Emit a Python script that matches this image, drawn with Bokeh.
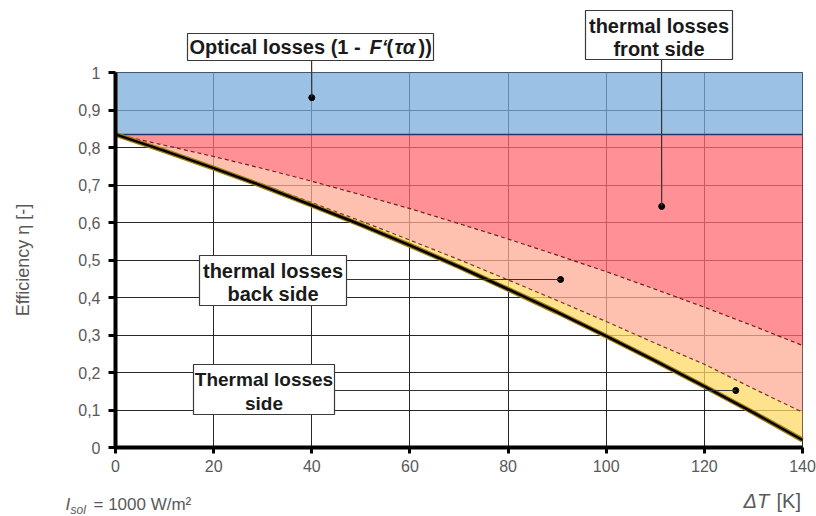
from bokeh.plotting import figure
from bokeh.models import (FixedTicker, CustomJSTickFormatter, Label, BoxAnnotation,
                          Arrow, ColumnDataSource, Range1d)
from bokeh.embed import file_html
from bokeh.resources import INLINE

# ---- data ----
delta_T = [0, 10, 20, 30, 40, 50, 60, 70, 80, 90, 100, 110, 120, 130, 140]
eta_top = [1.0, 1.0, 1.0, 1.0, 1.0, 1.0, 1.0, 1.0, 1.0, 1.0, 1.0, 1.0, 1.0, 1.0, 1.0]
eta_optical = [0.835, 0.835, 0.835, 0.835, 0.835, 0.835, 0.835, 0.835, 0.835, 0.835,
               0.835, 0.835, 0.835, 0.835, 0.835]
eta_front = [0.835, 0.806, 0.776, 0.744, 0.710, 0.674, 0.637, 0.597, 0.556, 0.513,
             0.469, 0.422, 0.374, 0.324, 0.272]
eta_back = [0.835, 0.792, 0.747, 0.701, 0.653, 0.604, 0.553, 0.501, 0.447, 0.392,
            0.336, 0.278, 0.222, 0.157, 0.094]
eta_total = [0.835, 0.791, 0.745, 0.697, 0.646, 0.594, 0.539, 0.482, 0.422, 0.361,
             0.297, 0.231, 0.163, 0.093, 0.020]

x_ticks = [0, 20, 40, 60, 80, 100, 120, 140]
y_ticks = [0, 0.1, 0.2, 0.3, 0.4, 0.5, 0.6, 0.7, 0.8, 0.9, 1.0]
y_tick_labels = ["0", "0,1", "0,2", "0,3", "0,4", "0,5", "0,6", "0,7", "0,8", "0,9", "1"]

# annotation points (dots)
dot_x = [40, 111.3, 90.7, 126.4]
dot_y = [0.933, 0.643, 0.448, 0.152]

FONT = "Liberation Sans"
GRAY = "#595959"

# canvas geometry: the plotting frame fills the canvas, the data area sits inside it
W, H = 816, 516
PX_LEFT, PX_RIGHT, PX_TOP, PX_BOTTOM = 115, 802, 72, 447
XMIN, XMAX, YMIN, YMAX = 0, 140, 0, 1
kx = (PX_RIGHT - PX_LEFT) / (XMAX - XMIN)
ky = (PX_BOTTOM - PX_TOP) / (YMAX - YMIN)
x_range = Range1d(XMIN - PX_LEFT / kx, XMAX + (W - PX_RIGHT) / kx)
y_range = Range1d(YMIN - (H - PX_BOTTOM) / ky, YMAX + PX_TOP / ky)

src = ColumnDataSource(dict(x=delta_T, top=eta_top, opt=eta_optical, front=eta_front,
                            back=eta_back, total=eta_total))

p = figure(width=W, height=H, x_range=x_range, y_range=y_range,
           output_backend="svg", toolbar_location=None, min_border=0)
p.outline_line_color = None
p.background_fill_color = "white"
p.border_fill_color = "white"

# grid (limited to the data area)
p.xgrid.ticker = FixedTicker(ticks=x_ticks)
p.ygrid.ticker = FixedTicker(ticks=y_ticks)
p.xgrid.bounds = (XMIN, XMAX)
p.ygrid.bounds = (YMIN, YMAX)
p.xgrid.cross_bounds = (YMIN, YMAX)
p.ygrid.cross_bounds = (XMIN, XMAX)
for g in (p.xgrid, p.ygrid):
    g.grid_line_color = "#262626"
    g.grid_line_width = 1
    g.grid_line_alpha = 1

# fills (translucent, grid shows through)
p.varea(x="x", y1="opt", y2="top", source=src, fill_color="#7aaedc", fill_alpha=0.75)
p.varea(x="x", y1="front", y2="opt", source=src, fill_color="#ff6c73", fill_alpha=0.75)
p.varea(x="x", y1="back", y2="front", source=src, fill_color="#ffac94", fill_alpha=0.75)
p.varea(x="x", y1="total", y2="back", source=src, fill_color="#ffd866", fill_alpha=0.75)

# lines
p.line(x="x", y="opt", source=src, line_color="#1f3a68", line_width=1.5)
p.line(x="x", y="front", source=src, line_color="#7b1a1a", line_width=1.2, line_dash="4 3")
p.line(x="x", y="back", source=src, line_color="#7a3b1e", line_width=1.2, line_dash="4 3")
p.line(x="x", y="total", source=src, line_color="#a07c10", line_width=5)
p.line(x="x", y="total", source=src, line_color="black", line_width=2.5)

# axes, fixed at the data origin
p.xaxis.ticker = FixedTicker(ticks=x_ticks)
p.yaxis.ticker = FixedTicker(ticks=y_ticks)
p.xaxis.fixed_location = YMIN
p.yaxis.fixed_location = XMIN
p.xaxis.bounds = (XMIN, XMAX)
p.yaxis.bounds = (YMIN, YMAX)
p.yaxis.formatter = CustomJSTickFormatter(
    args=dict(tvals=y_ticks, tlabels=y_tick_labels),
    code="const i = tvals.findIndex(t => Math.abs(t - tick) < 1e-9); return i >= 0 ? tlabels[i] : String(tick);")
for ax in (p.xaxis, p.yaxis):
    ax.axis_line_width = 4
    ax.axis_line_color = "black"
    ax.major_tick_line_width = 3
    ax.major_tick_line_color = "black"
    ax.major_tick_in = 0
    ax.minor_tick_line_color = None
    ax.major_label_text_font = FONT
    ax.major_label_text_font_size = "16px"
    ax.major_label_text_color = GRAY
p.xaxis.major_tick_out = 6
p.xaxis.major_label_standoff = 6
p.yaxis.major_tick_out = 7
p.yaxis.major_label_standoff = 8
p.yaxis.axis_label = "Efficiency η [-]"
p.yaxis.axis_label_text_font = FONT
p.yaxis.axis_label_text_font_size = "18px"
p.yaxis.axis_label_text_font_style = "normal"
p.yaxis.axis_label_text_color = GRAY
p.yaxis.axis_label_standoff = 42

# connectors: from the box (canvas px) to the dot (data)
box_anchor = [(311, 46), (661, 34), (272, 279), (263, 390)]
for (bx, by), dx, dy in zip(box_anchor, dot_x, dot_y):
    p.add_layout(Arrow(end=None, x_start=bx, y_start=by, x_end=dx, y_end=dy,
                       start_units="canvas", end_units="data",
                       line_color="#333333", line_width=1.2))

p.scatter(x=dot_x, y=dot_y, size=6, color="black")

# boxes (canvas px: left, right, top, bottom)
boxes = [(187, 433, 33, 60),
         (585, 732, 10, 59),
         (199, 346, 255, 305),
         (193, 334, 364, 414)]
for l, r, t, b in boxes:
    p.add_layout(BoxAnnotation(left=l, right=r, top=t, bottom=b,
                               left_units="canvas", right_units="canvas",
                               top_units="canvas", bottom_units="canvas",
                               fill_color="white", fill_alpha=1, line_color="#3a3a3a",
                               line_width=1.2, line_alpha=1))


def lab(x, y, text, size="20px", style="bold", align="center", color="#1a1a1a"):
    p.add_layout(Label(x=x, y=y, x_units="canvas", y_units="canvas", text=text,
                       text_font=FONT, text_font_size=size, text_font_style=style,
                       text_align=align, text_baseline="middle", text_color=color))


# box 1 pieces
lab(189, 46.5, "Optical losses (1 - ", align="left")
lab(369, 46.5, "F‘", style="bold italic", align="left")
lab(386, 46.5, "(", align="left")
lab(394, 46.5, "τα", style="bold italic", align="left")
lab(418, 46.5, "))", align="left")
# box 2
lab(658.5, 25, "thermal losses")
lab(658.5, 48, "front side")
# box 3
lab(272.5, 270, "thermal losses")
lab(272.5, 293, "back side")
# box 4
lab(263.5, 379, "Thermal losses", size="19px")
lab(263.5, 402.5, "side", size="19px")

# bottom texts
lab(65, 504, "I", size="17px", style="italic", align="left", color=GRAY)
lab(70, 509, "sol", size="12px", style="italic", align="left", color=GRAY)
lab(93, 504, "= 1000 W/m²", size="17px", style="normal", align="left", color=GRAY)
lab(743, 500, "ΔT", size="20px", style="italic", align="left", color=GRAY)
lab(776, 500, "[K]", size="20px", style="normal", align="left", color=GRAY)

open("out.html", "w").write(file_html(p, INLINE))
